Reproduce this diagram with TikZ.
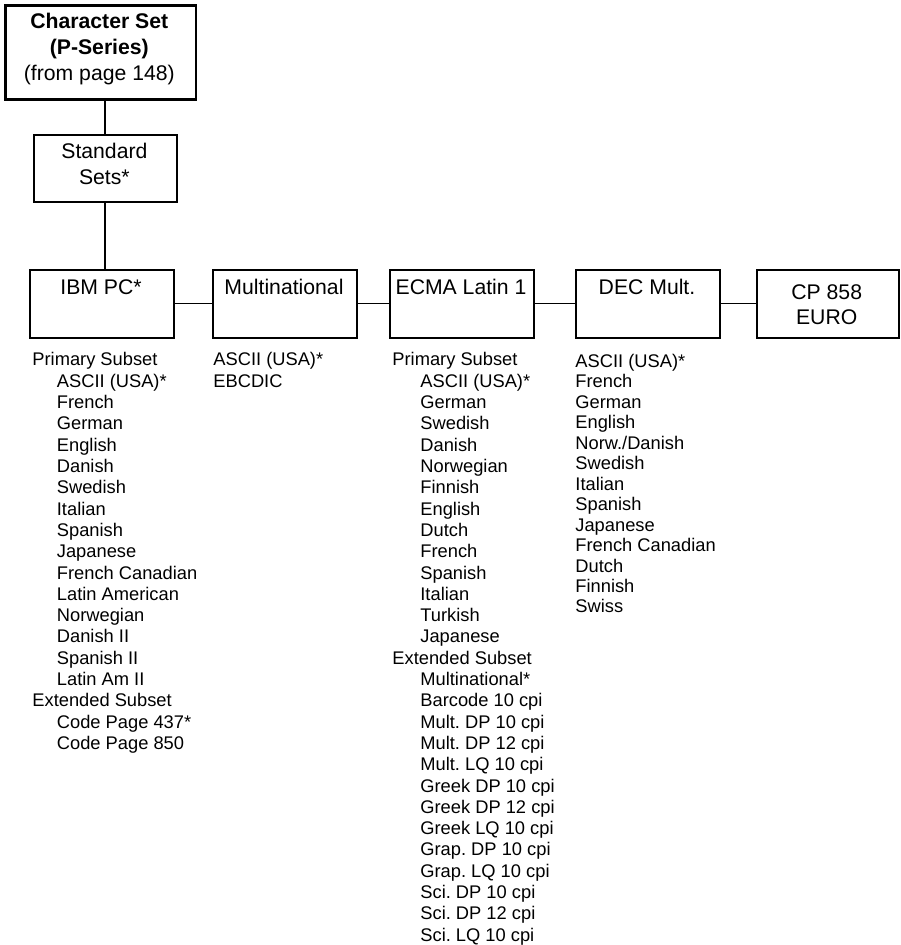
\documentclass[tikz,border=0pt]{standalone}
\usepackage{fontspec}
\setmainfont{Liberation Sans}
\frenchspacing
\begin{document}
\begin{tikzpicture}[x=0.5pt,y=-0.5pt,
  box/.style={draw, line width=1pt, inner sep=0pt, anchor=north west},
  boxtxt/.style={font=\fontsize{10.6}{13}\selectfont, anchor=base, inner sep=0pt},
  boldtxt/.style={boxtxt, font=\fontsize{10.6}{13}\selectfont\bfseries},
  coltxt/.style={font=\fontsize{9.15}{11}\selectfont, anchor=base west, inner sep=0pt},
  vline/.style={line width=1pt},
  hline/.style={line width=0.5pt}]
\useasboundingbox (0,0) rectangle (900,945);

% top box
\node[box, line width=1.35pt, minimum width=95.25pt, minimum height=47pt] (top) at (4,4) {};
\node[boldtxt] (top-l1) at (99.3,28.5) {Character Set};
\node[boldtxt] (top-l2) at (99.3,54.5) {(P-Series)};
\node[boxtxt] (top-l3) at (99.3,80.5) {(from page 148)};

% standard sets
\node[box, minimum width=71.65pt, minimum height=33.65pt] (std) at (32.7,133.7) {};
\node[boxtxt] (std-l1) at (104.4,158.3) {Standard};
\node[boxtxt] (std-l2) at (104.4,185) {Sets*};

% row of boxes
\node[box, minimum width=72pt, minimum height=34pt] (ibm) at (29,269) {};
\node[box, minimum width=72pt, minimum height=34pt] (mult) at (212,269) {};
\node[box, minimum width=72pt, minimum height=34pt] (ecma) at (389,269) {};
\node[box, minimum width=72pt, minimum height=34pt] (dec) at (575,269) {};
\node[box, minimum width=70.75pt, minimum height=34pt] (cp) at (756,269) {};

\node[boxtxt] (ibm-t) at (101,294.5) {IBM PC*};
\node[boxtxt] (mult-t) at (284,294.5) {Multinational};
\node[boxtxt] (ecma-t) at (461,294.5) {ECMA Latin 1};
\node[boxtxt] (dec-t) at (647,294.5) {DEC Mult.};
\node[boxtxt] (cp-l1) at (826.7,299.3) {CP 858};
\node[boxtxt] (cp-l2) at (826.7,325) {EURO};

% connectors
\coordinate (vx) at (105.3,0);
\draw[vline] (top.south -| vx) -- (std.north -| vx);
\draw[vline] (std.south -| vx) -- (ibm.north -| vx);
\draw[hline] (ibm.east) -- (mult.west);
\draw[hline] (mult.east) -- (ecma.west);
\draw[hline] (ecma.east) -- (dec.west);
\draw[hline] (dec.east) -- (cp.west);

% IBM PC column
\foreach \ind/\txt [count=\i from 0] in {0/Primary Subset,1/ASCII (USA)*,1/French,1/German,1/English,1/Danish,1/Swedish,1/Italian,1/Spanish,1/Japanese,1/French Canadian,1/Latin American,1/Norwegian,1/Danish II,1/Spanish II,1/Latin Am II,0/Extended Subset,1/Code Page 437*,1/Code Page 850}
  \node[coltxt] (ibm-l\i) at ({32+\ind*24.5},{366+\i*21.3}) {\txt};

% Multinational column
\foreach \txt [count=\i from 0] in {ASCII (USA)*,EBCDIC}
  \node[coltxt] (mult-l\i) at (213,{366+\i*21.3}) {\txt};

% ECMA column
\foreach \ind/\txt [count=\i from 0] in {0/Primary Subset,1/ASCII (USA)*,1/German,1/Swedish,1/Danish,1/Norwegian,1/Finnish,1/English,1/Dutch,1/French,1/Spanish,1/Italian,1/Turkish,1/Japanese,0/Extended Subset,1/Multinational*,1/Barcode 10 cpi,1/Mult. DP 10 cpi,1/Mult. DP 12 cpi,1/Mult. LQ 10 cpi,1/Greek DP 10 cpi,1/Greek DP 12 cpi,1/Greek LQ 10 cpi,1/Grap. DP 10 cpi,1/Grap. LQ 10 cpi,1/Sci. DP 10 cpi,1/Sci. DP 12 cpi,1/Sci. LQ 10 cpi}
  \node[coltxt] (ecma-l\i) at ({392+\ind*28},{366+\i*21.3}) {\txt};

% DEC column
\foreach \txt [count=\i from 0] in {ASCII (USA)*,French,German,English,Norw./Danish,Swedish,Italian,Spanish,Japanese,French Canadian,Dutch,Finnish,Swiss}
  \node[coltxt] (dec-l\i) at (575,{367.5+\i*20.45}) {\txt};
\end{tikzpicture}
\end{document}
